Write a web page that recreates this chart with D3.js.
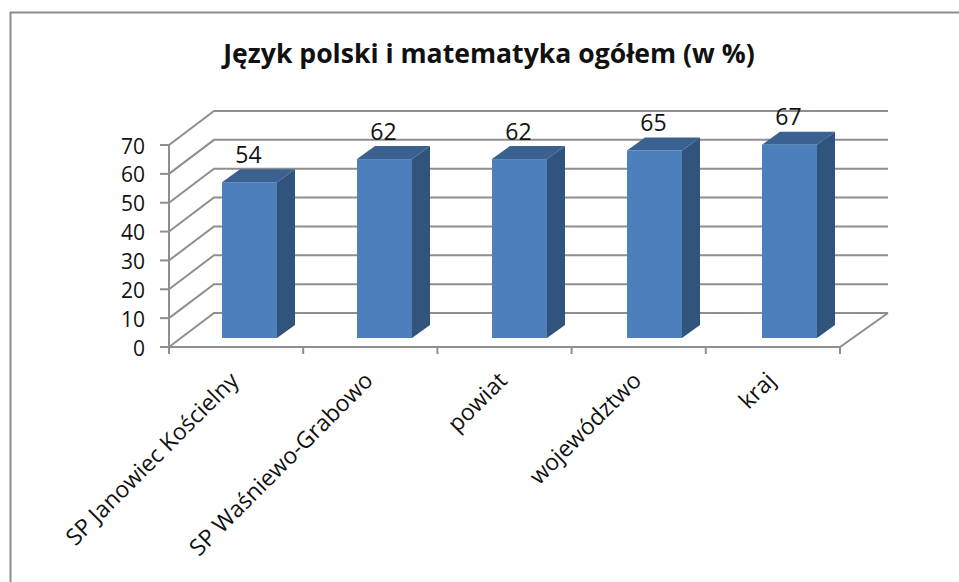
<!DOCTYPE html>
<html>
<head>
<meta charset="utf-8">
<script src="https://cdn.jsdelivr.net/npm/d3@7"></script>
<style>
  html, body { margin: 0; padding: 0; background: #fff; }
  svg { display: block; }
  text { font-family: "Open Sans", Lato, sans-serif; fill: #111; }
</style>
</head>
<body>
<script>
const categories = ['SP Janowiec Kościelny', 'SP Waśniewo-Grabowo', 'powiat', 'województwo', 'kraj']
const values = [54, 62, 62, 65, 67]
const yTicks = [0, 10, 20, 30, 40, 50, 60, 70]
const title = 'Język polski i matematyka ogółem (w %)'

const width = 959
const height = 582
const depth = { x: 45, y: -34 }      // floor depth, front edge to back wall
const barInset = { x: 0, y: -9 }     // front face of bars sits a bit behind the front edge
const barDepth = { x: 18, y: -13 }

const svg = d3.select('body').append('svg').attr('width', width).attr('height', height)

// chart frame
svg.append('path')
  .attr('d', 'M10.5,' + height + 'V12.5H' + width)
  .attr('fill', 'none')
  .attr('stroke', '#8c8c8c')
  .attr('stroke-width', 2)

svg.append('text')
  .attr('x', 489).attr('y', 63)
  .attr('text-anchor', 'middle')
  .style('font-size', '26.6px')
  .style('font-weight', 700)
  .text(title)

const x = d3.scaleBand().domain(categories).range([169, 840])
const barX = d3.scaleBand().domain(categories).range([182, 857]).paddingInner(0.5926).paddingOuter(0.2963)
const y = d3.scaleLinear().domain([0, 70]).range([347, 145])

const line = d3.line()
const gridColor = '#8e8e8e'

// gridlines: slanted on the side wall, straight on the back wall
const grid = svg.append('g').attr('fill', 'none').attr('stroke', gridColor).attr('stroke-width', 2)
grid.selectAll('path').data(yTicks).join('path')
  .attr('d', d => line([
    [x.range()[0], y(d)],
    [x.range()[0] + depth.x, y(d) + depth.y],
    [x.range()[1] + depth.x + 3, y(d) + depth.y]
  ]))

// floor, right side and front edge
grid.append('path')
  .attr('d', line([
    [x.range()[1] + depth.x + 3, y(0) + depth.y],
    [x.range()[1], y(0)],
    [x.range()[0], y(0)],
    [x.range()[0], y(70)]
  ]))

// ticks
const ticks = svg.append('g').attr('stroke', gridColor).attr('stroke-width', 2)
ticks.selectAll('.ytick').data(yTicks).join('line')
  .attr('class', 'ytick')
  .attr('x1', x.range()[0] - 9).attr('x2', x.range()[0])
  .attr('y1', d => y(d)).attr('y2', d => y(d))
const xEdges = categories.map(c => x(c)).concat(x.range()[1])
ticks.selectAll('.xtick').data(xEdges).join('line')
  .attr('class', 'xtick')
  .attr('x1', d => d).attr('x2', d => d)
  .attr('y1', y(0)).attr('y2', y(0) + 7)

svg.append('g').selectAll('text').data(yTicks).join('text')
  .attr('x', x.range()[0] - 24)
  .attr('y', d => y(d) + 8.5)
  .attr('text-anchor', 'end')
  .style('font-size', '21px')
  .text(d => d)

// bars
const bars = svg.append('g').selectAll('g').data(categories).join('g')
const barTop = (c, i) => y(values[i]) + barInset.y
const barBase = y(0) + barInset.y

bars.append('path')
  .attr('fill', '#31547d')
  .attr('d', (c, i) => {
    const r = barX(c) + barX.bandwidth()
    return line([[r, barTop(c, i)], [r + barDepth.x, barTop(c, i) + barDepth.y], [r + barDepth.x, barBase + barDepth.y], [r, barBase]]) + 'Z'
  })
bars.append('path')
  .attr('fill', '#3a6190')
  .attr('d', (c, i) => {
    const l = barX(c), r = l + barX.bandwidth()
    return line([[l, barTop(c, i)], [l + barDepth.x, barTop(c, i) + barDepth.y], [r + barDepth.x, barTop(c, i) + barDepth.y], [r, barTop(c, i)]]) + 'Z'
  })
bars.append('rect')
  .attr('x', c => barX(c))
  .attr('y', barTop)
  .attr('width', barX.bandwidth())
  .attr('height', (c, i) => barBase - barTop(c, i))
  .attr('fill', '#4d7fbc')

// value labels
svg.append('g').selectAll('text').data(categories).join('text')
  .attr('x', c => barX(c) + barX.bandwidth() / 2 - 1)
  .attr('y', (c, i) => barTop(c, i) - 19.5)
  .attr('text-anchor', 'middle')
  .style('font-size', '23px')
  .text((c, i) => values[i])

// category labels, rotated and ending under the tick centre
svg.append('g').selectAll('text').data(categories).join('text')
  .attr('text-anchor', 'end')
  .attr('transform', c => 'translate(' + (x(c) + x.bandwidth() / 2 + 4) + ',' + 382 + ') rotate(-45)')
  .style('font-size', '23px')
  .text(c => c)
</script>
</body>
</html>
